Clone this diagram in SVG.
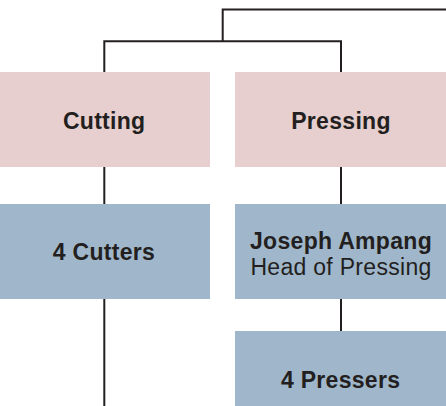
<svg xmlns="http://www.w3.org/2000/svg" width="446" height="406" viewBox="0 0 446 406">
<style>
.dept{fill:#e6cfce}
.staff{fill:#a0b7cb}
.t{font-family:"Liberation Sans",Arial,sans-serif;font-size:23px;fill:#231f20;text-anchor:middle;letter-spacing:0.3px}
.b{font-weight:bold}
.ln{stroke:#231f20;stroke-width:2;fill:none}
</style>
<rect width="446" height="406" fill="#ffffff"/>
<g id="connectors">
<polyline class="ln" points="446,9.5 222.7,9.5 222.7,41.3"/>
<polyline class="ln" points="104.3,72 104.3,41.3 341,41.3 341,72"/>
<line class="ln" x1="104.3" y1="167" x2="104.3" y2="204"/>
<line class="ln" x1="104.3" y1="299" x2="104.3" y2="406"/>
<line class="ln" x1="341" y1="167" x2="341" y2="204"/>
<line class="ln" x1="341" y1="299" x2="341" y2="331"/>
</g>
<g id="cutting">
<rect class="dept" x="0" y="72" width="210" height="95"/>
<text class="t b" x="104.2" y="128.8">Cutting</text>
</g>
<g id="pressing">
<rect class="dept" x="235" y="72" width="211" height="95"/>
<text class="t b" x="341" y="128.8">Pressing</text>
</g>
<g id="cutters">
<rect class="staff" x="0" y="204" width="210" height="95"/>
<text class="t b" x="104" y="259.8">4 Cutters</text>
</g>
<g id="head-pressing">
<rect class="staff" x="235" y="204" width="211" height="95"/>
<text class="t b" x="341" y="248.5">Joseph Ampang</text>
<text class="t" x="341" y="274.5">Head of Pressing</text>
</g>
<g id="pressers">
<rect class="staff" x="235" y="331" width="211" height="95"/>
<text class="t b" x="340.6" y="388">4 Pressers</text>
</g>
</svg>
